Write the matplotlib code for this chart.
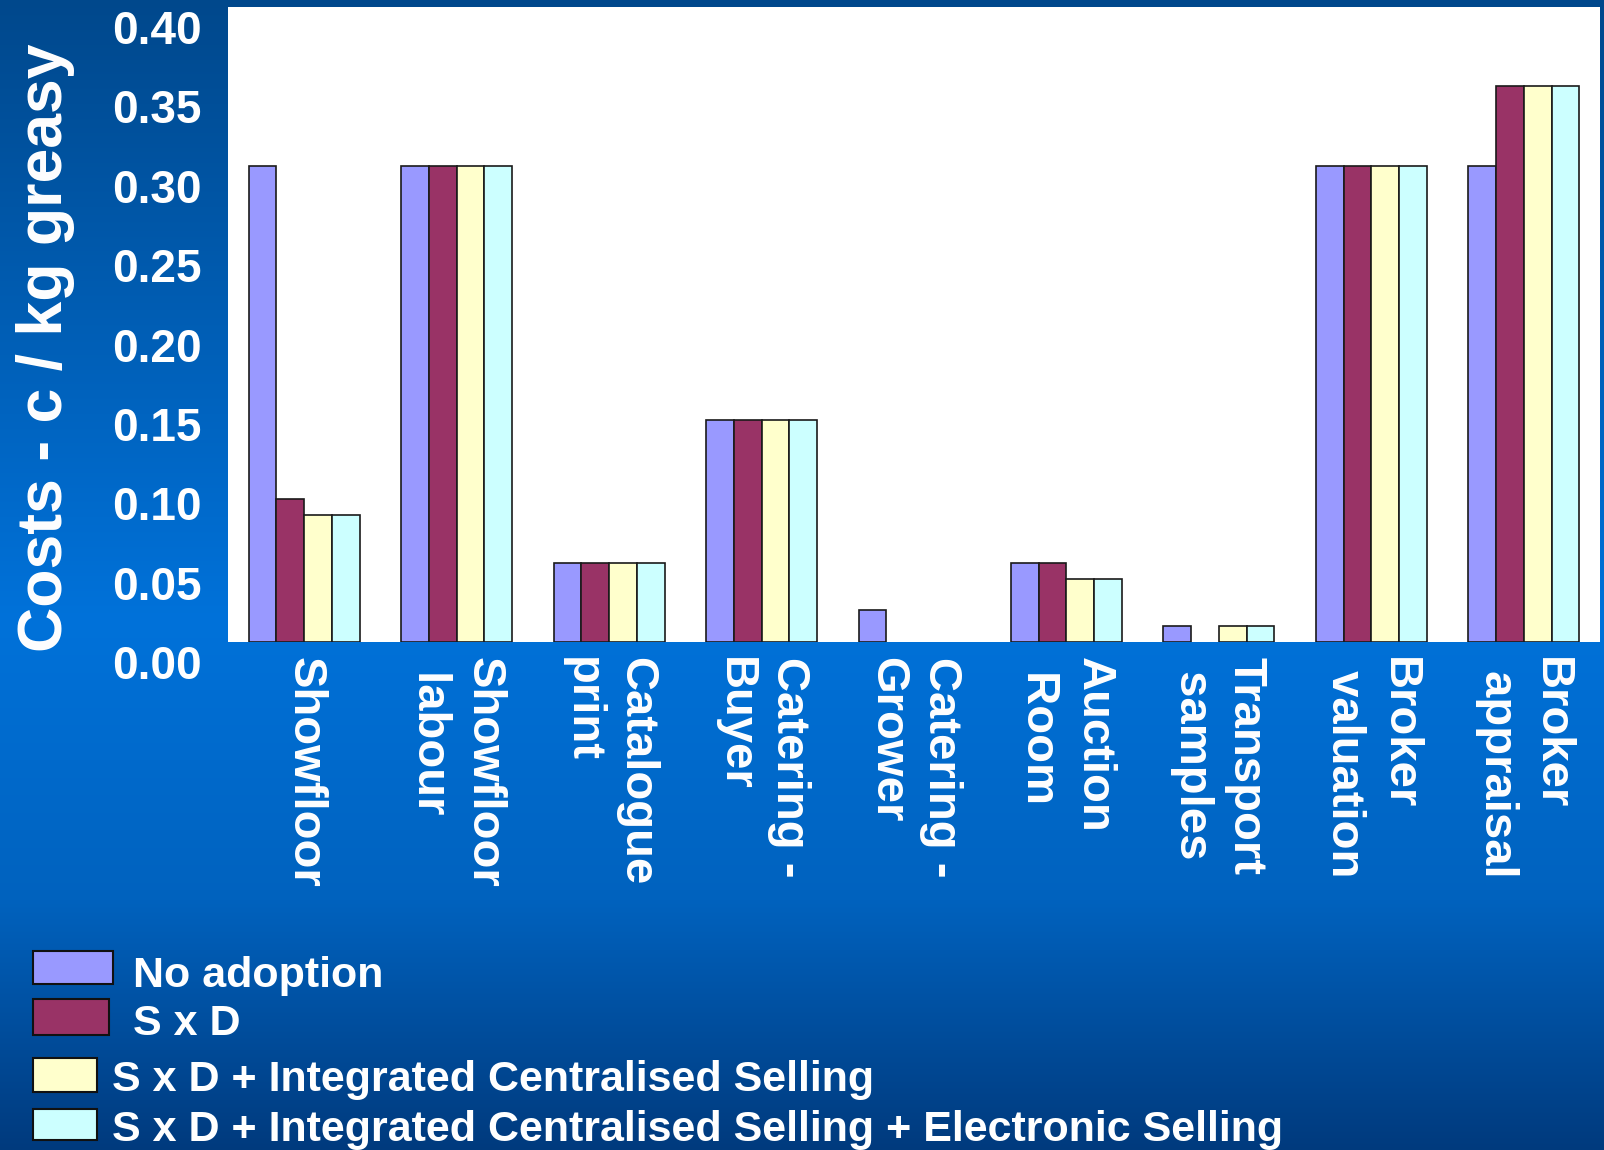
import numpy as np
import matplotlib
matplotlib.use("Agg")
import matplotlib.pyplot as plt
from matplotlib.patches import Rectangle
from matplotlib.transforms import ScaledTranslation

plt.rcParams['font.family'] = ['Liberation Sans', 'DejaVu Sans']
plt.rcParams['font.weight'] = 'bold'

# data
categories = ["Showfloor", "Showfloor\n labour", "Catalogue\nprint", "Catering -\nBuyer",
              "Catering -\nGrower", "Auction\n Room", "Transport\n samples",
              "Broker\n valuation", "Broker\n appraisal"]
series_names = ["No adoption", "S x D", "S x D + Integrated Centralised Selling",
                "S x D + Integrated Centralised Selling + Electronic Selling"]
no_adoption = [0.30, 0.30, 0.05, 0.14, 0.02, 0.05, 0.01, 0.30, 0.30]
sxd = [0.09, 0.30, 0.05, 0.14, 0.00, 0.05, 0.00, 0.30, 0.35]
sxd_ics = [0.08, 0.30, 0.05, 0.14, 0.00, 0.04, 0.01, 0.30, 0.35]
sxd_ics_es = [0.08, 0.30, 0.05, 0.14, 0.00, 0.04, 0.01, 0.30, 0.35]
yticks = [0.00, 0.05, 0.10, 0.15, 0.20, 0.25, 0.30, 0.35, 0.40]

colors = ['#9999FF', '#993366', '#FFFFCC', '#CCFFFF']
W, H = 1604, 1150

fig = plt.figure(figsize=(W / 100, H / 100), dpi=100)

# gradient background
bg = fig.add_axes([0, 0, 1, 1], zorder=-5)
rows = np.arange(H)
stops = [0, 620, 900, H]
r = np.interp(rows, stops, [0, 0, 0, 0])
g = np.interp(rows, stops, [72, 114, 98, 58])
b = np.interp(rows, stops, [140, 218, 190, 125])
grad = np.stack([r, g, b], axis=1)[:, None, :] / 255.0
bg.imshow(grad, aspect='auto', extent=[0, 1, 0, 1], interpolation='bilinear')
bg.axis('off')

# main plot area
x0, x1, y0, y1 = 228, 1600, 7, 642
ax = fig.add_axes([x0 / W, (H - y1) / H, (x1 - x0) / W, (y1 - y0) / H])
ax.set_facecolor('white')
for s in ax.spines.values():
    s.set_visible(False)

idx = np.arange(len(categories))
w = 0.182
for j, vals in enumerate([no_adoption, sxd, sxd_ics, sxd_ics_es]):
    vals = np.array(vals)
    keep = vals > 0
    ax.bar(idx[keep] + (j - 1.5) * w, vals[keep], width=w, color=colors[j],
           edgecolor='#1a1a1a', linewidth=1.2, zorder=3)

ax.set_xlim(-0.5, len(categories) - 0.5)
ax.set_ylim(0, 0.40)
ax.set_yticks(yticks)
ax.set_yticklabels(['%.2f' % v for v in yticks])
ax.tick_params(axis='y', length=0, pad=19, labelsize=33, labelcolor='white')
shift = ScaledTranslation(0, -0.2, fig.dpi_scale_trans)
for lab in ax.get_yticklabels():
    lab.set_transform(lab.get_transform() + shift)

ax.set_xticks(idx)
ax.set_xticklabels(categories, rotation=270, ha='center', va='top',
                   multialignment='left', linespacing=1.3)
ax.tick_params(axis='x', length=0, pad=11, labelsize=34, labelcolor='white')

fig.text(46 / W, 1 - 348 / H, "Costs - c / kg greasy", rotation=90, color='white',
         fontsize=45, fontweight='bold', ha='center', va='center')

# legend
swatches = [(33, 951, 80, 33), (33, 999, 76, 36), (33, 1058, 64, 34), (33, 1109, 64, 31)]
text_pos = [(133, 976), (133, 1024), (112, 1080), (112, 1130)]
for (sx, sy, sw, sh), (tx, ty), name, c in zip(swatches, text_pos, series_names, colors):
    fig.add_artist(Rectangle((sx / W, 1 - (sy + sh) / H), sw / W, sh / H,
                             transform=fig.transFigure, facecolor=c,
                             edgecolor='#111111', linewidth=1.5))
    fig.text(tx / W, 1 - ty / H, name, color='white', fontsize=31,
             fontweight='bold', ha='left', va='center')

fig.savefig("out.png", dpi=100)
